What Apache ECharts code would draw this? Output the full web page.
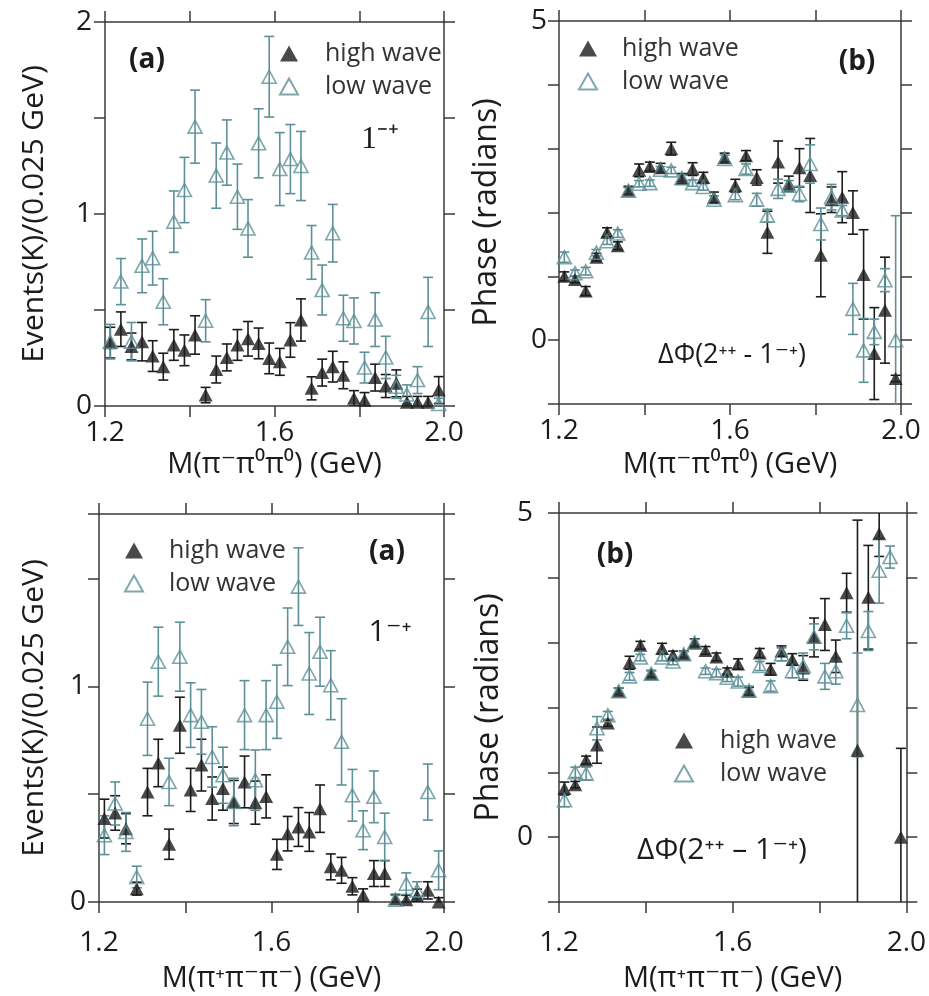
<!DOCTYPE html>
<html>
<head>
<meta charset="utf-8">
<title>Intensity and phase, high wave / low wave</title>
<script src="https://cdn.jsdelivr.net/npm/echarts@6/dist/echarts.min.js"></script>
<style>
  html, body { margin: 0; padding: 0; background: #fff; }
  #main { width: 929px; height: 996px; }
</style>
</head>
<body>
<div id="main"></div>
<script>
// bin centres in GeV (0.025 GeV bins from 1.2 to 2.0)
const massBins = [1.2125, 1.2375, 1.2625, 1.2875, 1.3125, 1.3375, 1.3625, 1.3875,
  1.4125, 1.4375, 1.4625, 1.4875, 1.5125, 1.5375, 1.5625, 1.5875,
  1.6125, 1.6375, 1.6625, 1.6875, 1.7125, 1.7375, 1.7625, 1.7875,
  1.8125, 1.8375, 1.8625, 1.8875, 1.9125, 1.9375, 1.9625, 1.9875];

// top left: events, pi- pi0 pi0
const highEvtNeutral = [0.33, 0.40, 0.31, 0.335, 0.26, 0.205, 0.318, 0.29, 0.37, 0.057, 0.19, 0.253, 0.318, 0.35, 0.326, 0.248,
  0.23, 0.344, 0.448, 0.092, 0.174, 0.205, 0.16, 0.04, 0.03, 0.148, 0.104, 0.118, 0.02, 0.02, 0.02, 0.083];
const highEvtNeutralErr = [0.08, 0.09, 0.07, 0.1, 0.08, 0.07, 0.08, 0.08, 0.1, 0.04, 0.07, 0.07, 0.08, 0.09, 0.08, 0.08,
  0.07, 0.09, 0.11, 0.06, 0.07, 0.08, 0.07, 0.04, 0.04, 0.07, 0.06, 0.07, 0.03, 0.03, 0.03, 0.07];
const lowEvtNeutral = [0.335, 0.648, 0.335, 0.73, 0.77, 0.543, 0.96, 1.125, 1.455, 0.444, 1.2, 1.32, 1.09, 0.925, 1.368, 1.715,
  1.234, 1.286, 1.25, 0.8, 0.604, 0.9, 0.457, 0.443, 0.2, 0.45, 0.253, 0.1, 0.06, 0.135, 0.49, 0.01];
const lowEvtNeutralErr = [0.09, 0.12, 0.1, 0.14, 0.14, 0.12, 0.16, 0.17, 0.19, 0.11, 0.17, 0.17, 0.17, 0.15, 0.18, 0.21,
  0.19, 0.18, 0.18, 0.14, 0.13, 0.15, 0.12, 0.12, 0.08, 0.14, 0.11, 0.06, 0.05, 0.07, 0.18, 0.03];

// top right: phase, pi- pi0 pi0
const highPhaseNeutral = [1.0, 0.95, 0.77, 1.3, 1.69, 1.48, 2.35, 2.66, 2.72, 2.7, 3.0, 2.53, 2.68, 2.55, 2.24, 2.86,
  2.42, 2.89, 2.55, 1.69, 2.79, 2.45, 2.7, 2.58, 1.33, 2.2, 2.24, 2.0, 1.03, -0.21, 0.47, -0.6];
const highPhaseNeutralErr = [0.07, 0.05, 0.07, 0.06, 0.07, 0.06, 0.06, 0.1, 0.07, 0.07, 0.1, 0.08, 0.1, 0.08, 0.08, 0.07,
  0.1, 0.08, 0.12, 0.33, 0.33, 0.12, 0.3, 0.58, 0.65, 0.2, 0.4, 0.34, 0.7, 0.72, 0.83, 0.05];
const lowPhaseNeutral = [1.3, 1.05, 1.08, 1.37, 1.55, 1.67, 2.34, 2.45, 2.46, 2.67, 2.66, 2.54, 2.46, 2.4, 2.2, 2.84,
  2.27, 2.68, 2.2, 1.95, 2.37, 2.42, 2.29, 2.76, 1.82, 2.24, 2.03, 0.49, -0.16, 0.13, 0.94, 0.0];
const lowPhaseNeutralErr = [0.08, 0.05, 0.06, 0.05, 0.05, 0.06, 0.05, 0.05, 0.05, 0.05, 0.05, 0.05, 0.05, 0.05, 0.06, 0.06,
  0.07, 0.08, 0.1, 0.1, 0.15, 0.08, 0.12, 0.3, 0.25, 0.2, 0.08, 0.4, 0.5, 0.2, 0.18, 1.95];

// bottom left: events, pi+ pi- pi-
const highEvtCharged = [0.387, 0.413, 0.34, 0.062, 0.51, 0.645, 0.268, 0.82, 0.52, 0.635, 0.48, 0.526, 0.464, 0.557, 0.461, 0.49,
  0.221, 0.317, 0.348, 0.325, 0.433, 0.163, 0.147, 0.073, 0.031, 0.132, 0.132, 0.015, 0.011, 0.03, 0.054, 0.0];
const highEvtChargedErr = [0.09, 0.08, 0.07, 0.03, 0.11, 0.11, 0.07, 0.13, 0.1, 0.12, 0.1, 0.1, 0.1, 0.12, 0.1, 0.1,
  0.07, 0.08, 0.09, 0.09, 0.11, 0.06, 0.06, 0.04, 0.03, 0.06, 0.06, 0.02, 0.02, 0.03, 0.04, 0.02];
const lowEvtCharged = [0.31, 0.457, 0.325, 0.116, 0.85, 1.115, 0.557, 1.138, 0.867, 0.836, 0.673, 0.588, 0.464, 0.867, 0.565, 0.867,
  0.929, 1.184, 1.463, 1.06, 1.161, 1.006, 0.743, 0.495, 0.333, 0.488, 0.302, 0.011, 0.085, 0.054, 0.51, 0.147];
const lowEvtChargedErr = [0.09, 0.1, 0.09, 0.05, 0.17, 0.16, 0.11, 0.16, 0.15, 0.15, 0.14, 0.13, 0.11, 0.16, 0.14, 0.16,
  0.17, 0.18, 0.18, 0.19, 0.16, 0.16, 0.2, 0.12, 0.09, 0.12, 0.11, 0.02, 0.05, 0.04, 0.13, 0.09];

// bottom right: phase, pi+ pi- pi-
const highPhaseCharged = [0.75, 0.81, 1.19, 1.42, 1.76, 2.25, 2.69, 2.96, 2.52, 2.91, 2.81, 2.82, 3.0, 2.88, 2.78, 2.56,
  2.67, 2.25, 2.84, 2.59, 2.87, 2.74, 2.61, 3.08, 3.28, 2.79, 3.77, 1.34, 3.7, 4.68, null, 0.0];
const highPhaseChargedErr = [0.1, 0.05, 0.06, 0.28, 0.05, 0.05, 0.1, 0.06, 0.05, 0.08, 0.06, 0.05, 0.06, 0.06, 0.06, 0.05,
  0.08, 0.06, 0.07, 0.09, 0.08, 0.09, 0.19, 0.3, 0.4, 0.25, 0.3, 3.55, 0.8, 0.35, null, 1.37];
const lowPhaseCharged = [0.57, 1.0, 0.98, 1.68, 1.88, 2.25, 2.48, 2.77, 2.52, 2.77, 2.71, 2.82, 3.0, 2.56, 2.53, 2.46,
  2.4, 2.26, 2.64, 2.33, 2.82, 2.56, 2.64, 3.09, 2.48, 2.56, 3.26, 2.04, 3.18, 4.11, 4.32, null];
const lowPhaseChargedErr = [0.1, 0.08, 0.1, 0.18, 0.06, 0.05, 0.06, 0.05, 0.05, 0.05, 0.05, 0.04, 0.05, 0.05, 0.06, 0.06,
  0.07, 0.07, 0.07, 0.08, 0.1, 0.1, 0.2, 0.2, 0.2, 0.2, 0.2, 0.8, 0.3, 0.5, 0.17, null];

const xTicks = [1.2, 1.6, 2.0];

const FONT = '"Open Sans", "DejaVu Sans", sans-serif';
const BLACK = '#1c1c1c';
const TEAL = '#5e9098';
const AXIS = '#3a3a3a';

const chart = echarts.init(document.getElementById('main'));

function points(vals, errs) {
  const out = [];
  massBins.forEach(function (m, i) {
    if (vals[i] != null) out.push([m, vals[i], errs[i] || 0]);
  });
  return out;
}

function errorBars(name, data, color, idx) {
  return {
    type: 'custom',
    name: name,
    xAxisIndex: idx,
    yAxisIndex: idx,
    clip: true,
    silent: true,
    z: 2,
    data: data,
    encode: { x: 0, y: 1 },
    renderItem: function (params, api) {
      const x = api.value(0), y = api.value(1), e = api.value(2);
      const hi = api.coord([x, y + e]);
      const lo = api.coord([x, y - e]);
      const cap = 5;
      const st = { stroke: color, lineWidth: 1.6 };
      return {
        type: 'group',
        children: [
          { type: 'line', shape: { x1: hi[0], y1: hi[1], x2: lo[0], y2: lo[1] }, style: st },
          { type: 'line', shape: { x1: hi[0] - cap, y1: hi[1], x2: hi[0] + cap, y2: hi[1] }, style: st },
          { type: 'line', shape: { x1: lo[0] - cap, y1: lo[1], x2: lo[0] + cap, y2: lo[1] }, style: st }
        ]
      };
    }
  };
}

function markers(name, data, idx) {
  const filled = name === 'high wave';
  return {
    type: 'scatter',
    name: name,
    xAxisIndex: idx,
    yAxisIndex: idx,
    symbol: 'triangle',
    symbolSize: [14, 13],
    z: 3,
    silent: true,
    data: data.map(function (d) { return [d[0], d[1]]; }),
    itemStyle: filled
      ? { color: BLACK }
      : { color: 'rgba(255,255,255,0)', borderColor: TEAL, borderWidth: 1.6 }
  };
}

const grids = [
  { left: 105, top: 22, width: 339, height: 384 },
  { left: 559, top: 21, width: 342, height: 383 },
  { left: 99, top: 514, width: 345, height: 388 },
  { left: 559, top: 513, width: 350, height: 389 }
];

const yRanges = [
  { min: 0, max: 2, interval: 0.5, shown: [0, 1, 2] },
  { min: -1, max: 5, interval: 1, shown: [0, 5] },
  { min: 0, max: 1.8, interval: 0.5, shown: [0, 1] },
  { min: -1, max: 5, interval: 1, shown: [0, 5] }
];

const xNames = ['M(π⁻π⁰π⁰) (GeV)', 'M(π⁻π⁰π⁰) (GeV)', 'M(π⁺π⁻π⁻) (GeV)', 'M(π⁺π⁻π⁻) (GeV)'];
const yNames = ['Events(K)/(0.025 GeV)', 'Phase (radians)', 'Events(K)/(0.025 GeV)', 'Phase (radians)'];
const xLabelMargin = [13, 13, 27, 27];
const xNameGap = [44, 46, 62, 62];
const yLabelMargin = [13, 12, 13, 26];
const yNameGap = [56, 56, 50, 54];
const yNameSize = [30, 32, 30, 32];

const lineStyle = { color: AXIS, width: 1.5 };
const tickStyle = { show: true, length: 11, lineStyle: { color: AXIS, width: 1.5 } };

const xAxes = [], yAxes = [];
grids.forEach(function (g, i) {
  xAxes.push({
    type: 'value', gridIndex: i, min: 1.2, max: 2.0, interval: 0.2,
    axisLine: { onZero: false, lineStyle: lineStyle }, axisTick: tickStyle, splitLine: { show: false },
    axisLabel: {
      margin: xLabelMargin[i], fontSize: 28, color: BLACK, fontFamily: FONT,
      formatter: function (v) {
        return xTicks.some(function (t) { return Math.abs(t - v) < 1e-6; }) ? v.toFixed(1) : '';
      }
    },
    name: xNames[i], nameLocation: 'middle', nameGap: xNameGap[i],
    nameTextStyle: { fontSize: 29, color: BLACK, fontFamily: FONT }
  });
  yAxes.push({
    type: 'value', gridIndex: i, min: yRanges[i].min, max: yRanges[i].max, interval: yRanges[i].interval,
    axisLine: { onZero: false, lineStyle: lineStyle }, axisTick: tickStyle, splitLine: { show: false },
    axisLabel: {
      margin: yLabelMargin[i], fontSize: 28, color: BLACK, fontFamily: FONT,
      showMaxLabel: true, showMinLabel: true,
      formatter: function (v) {
        return yRanges[i].shown.some(function (t) { return Math.abs(t - v) < 1e-6; }) ? String(Math.round(v)) : '';
      }
    },
    name: yNames[i], nameLocation: 'middle', nameGap: yNameGap[i],
    nameTextStyle: { fontSize: yNameSize[i], color: BLACK, fontFamily: FONT }
  });
});
// frame: top and right axes with outward ticks, no labels
grids.forEach(function (g, i) {
  xAxes.push({
    type: 'value', gridIndex: i, position: 'top', min: 1.2, max: 2.0, interval: 0.2,
    axisLine: { onZero: false, lineStyle: lineStyle }, axisTick: tickStyle, axisLabel: { show: false }, splitLine: { show: false }
  });
  yAxes.push({
    type: 'value', gridIndex: i, position: 'right', min: yRanges[i].min, max: yRanges[i].max, interval: yRanges[i].interval,
    axisLine: { onZero: false, lineStyle: lineStyle }, axisTick: tickStyle, axisLabel: { show: false }, splitLine: { show: false }
  });
});

const panels = [
  [points(highEvtNeutral, highEvtNeutralErr), points(lowEvtNeutral, lowEvtNeutralErr)],
  [points(highPhaseNeutral, highPhaseNeutralErr), points(lowPhaseNeutral, lowPhaseNeutralErr)],
  [points(highEvtCharged, highEvtChargedErr), points(lowEvtCharged, lowEvtChargedErr)],
  [points(highPhaseCharged, highPhaseChargedErr), points(lowPhaseCharged, lowPhaseChargedErr)]
];

const series = [];
panels.forEach(function (p, i) {
  series.push(errorBars('high wave error', p[0], BLACK, i));
  series.push(markers('high wave', p[0], i));
  series.push(errorBars('low wave error', p[1], TEAL, i));
  series.push(markers('low wave', p[1], i));
});

function legendAt(left, top, pad) {
  return {
    left: left, top: top, orient: 'vertical', itemGap: 8, itemWidth: 18, itemHeight: 16,
    selectedMode: false,
    data: ['high wave', 'low wave'],
    textStyle: { fontSize: 25, color: '#333', fontFamily: FONT, lineHeight: 24, padding: [0, 0, 0, pad] }
  };
}

function label(x, y, text, size, extra) {
  return {
    type: 'text', x: x, y: y, silent: true,
    style: Object.assign({
      text: text, fontSize: size, fontFamily: FONT, fill: BLACK,
      textAlign: 'center', textVerticalAlign: 'middle'
    }, extra || {})
  };
}

chart.setOption({
  animation: false,
  backgroundColor: '#fff',
  grid: grids,
  xAxis: xAxes,
  yAxis: yAxes,
  legend: [legendAt(274, 36, 22), legendAt(573, 31, 20), legendAt(119, 533, 21), legendAt(669, 723, 22)],
  graphic: [
    label(147, 60, '(a)', 28, { fontWeight: 'bold' }),
    label(380, 140, '1⁻⁺', 32, { fontFamily: '"Liberation Serif", serif' }),
    label(857, 62, '(b)', 28, { fontWeight: 'bold' }),
    label(732, 355, 'ΔΦ(2⁺⁺ - 1⁻⁺)', 27),
    label(387, 552, '(a)', 28, { fontWeight: 'bold' }),
    label(390, 632, '1⁻⁺', 30),
    label(615, 555, '(b)', 28, { fontWeight: 'bold' }),
    label(722, 850, 'ΔΦ(2⁺⁺ – 1⁻⁺)', 30)
  ],
  series: series
});
</script>
</body>
</html>
